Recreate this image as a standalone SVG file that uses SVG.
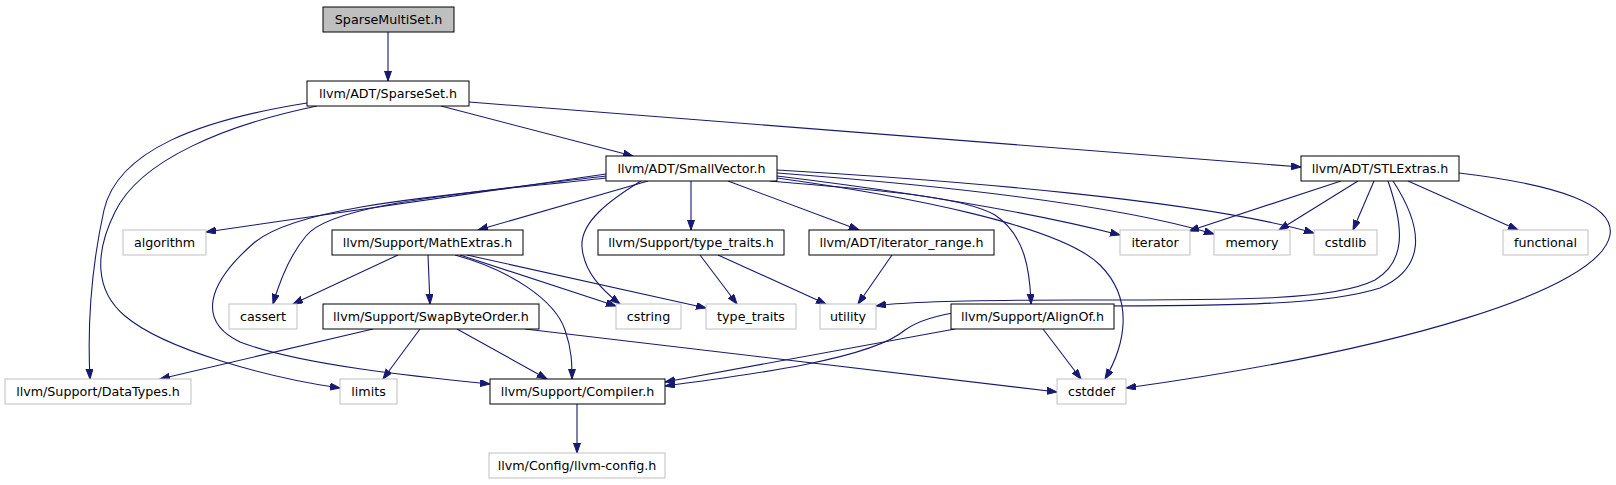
<svg xmlns="http://www.w3.org/2000/svg" width="1616" height="485" viewBox="0 0 1616 485">
<style>
  .n rect { fill: white; stroke: black; stroke-width: 1; }
  .n.root rect { fill: #bfbfbf; }
  .n.ext rect { stroke: #bfbfbf; }
  .n text { font-family: "DejaVu Sans", sans-serif; font-size: 12.7px; fill: black; text-anchor: middle; }
  .e path { fill: none; stroke: #191970; stroke-width: 1.1; marker-end: url(#ah); }
</style>
<defs>
  <marker id="ah" markerUnits="userSpaceOnUse" markerWidth="11" markerHeight="8" refX="10" refY="3.5" orient="auto">
    <path d="M0,0 L10,3.5 L0,7 z" fill="#191970" stroke="#191970" stroke-width="1"/>
  </marker>
</defs>
<rect width="1616" height="485" fill="white"/>
<g id="edges" class="e">
  <path d="M388,32 L388,81"/>
  <path d="M441,106 L633,156"/>
  <path d="M469,102 L1301,167"/>
  <path d="M307,103 C 200,120 118,150 104,210 C 93,260 87,320 90,379"/>
  <path d="M317,106 C 225,125 140,160 115,212 C 95,252 94,290 125,316 C 165,350 270,378 340,388"/>
  <path d="M606,174 L206,232"/>
  <path d="M606,176 C 450,195 330,205 306,236 C 290,255 280,280 273,304"/>
  <path d="M606,178 C 450,195 300,205 255,242 C 205,285 198,322 240,342 C 300,365 420,377 490,384"/>
  <path d="M648,181 L478,230"/>
  <path d="M641,181 C 610,200 580,222 582,247 C 584,272 602,290 620,304"/>
  <path d="M691,181 L691,230"/>
  <path d="M728,181 L859,230"/>
  <path d="M777,170 C 950,180 1200,200 1314,233"/>
  <path d="M777,173 C 950,186 1120,206 1214,234"/>
  <path d="M777,176 C 900,191 1030,212 1120,235"/>
  <path d="M777,178 C 900,195 1060,225 1100,265 C 1135,300 1125,345 1105,379"/>
  <path d="M770,181 C 870,190 960,195 995,215 C 1025,235 1030,270 1031,304"/>
  <path d="M1341,181 L1189,231"/>
  <path d="M1358,181 L1279,230"/>
  <path d="M1374,181 L1353,230"/>
  <path d="M1408,181 L1518,230"/>
  <path d="M1388,181 C 1405,230 1405,262 1375,280 C 1335,300 1250,300 1076,300 C 960,300 900,302 876,306"/>
  <path d="M1393,181 C 1425,230 1425,268 1380,288 C 1330,304 1250,306 1076,306 C 980,306 930,312 905,330 C 870,360 740,376 665,386"/>
  <path d="M1459,173 C 1560,185 1615,205 1610,235 C 1600,290 1400,350 1126,388"/>
  <path d="M398,255 L293,304"/>
  <path d="M428,255 L430,304"/>
  <path d="M460,255 L616,306"/>
  <path d="M467,255 L706,308"/>
  <path d="M455,255 C 510,270 555,300 565,330 C 572,350 572,365 572,379"/>
  <path d="M373,329 L160,379"/>
  <path d="M420,329 L383,379"/>
  <path d="M457,329 L547,379"/>
  <path d="M525,329 L1057,392"/>
  <path d="M955,329 L665,382"/>
  <path d="M1043,329 L1081,379"/>
  <path d="M700,255 L737,304"/>
  <path d="M718,255 L826,304"/>
  <path d="M892,255 L858,304"/>
  <path d="M577,404 L577,453"/>
</g>
<g id="n_sparsemultiset" class="n root"><rect x="323" y="7" width="131" height="25"/><text x="388.5" y="24">SparseMultiSet.h</text></g>
<g id="n_sparseset" class="n"><rect x="307" y="81" width="162" height="25"/><text x="388" y="98">llvm/ADT/SparseSet.h</text></g>
<g id="n_smallvector" class="n"><rect x="606" y="156" width="171" height="25"/><text x="691.5" y="173">llvm/ADT/SmallVector.h</text></g>
<g id="n_stlextras" class="n"><rect x="1301" y="156" width="158" height="25"/><text x="1380" y="173">llvm/ADT/STLExtras.h</text></g>
<g id="n_algorithm" class="n ext"><rect x="123" y="230" width="83" height="25"/><text x="164.5" y="247">algorithm</text></g>
<g id="n_mathextras" class="n"><rect x="332" y="230" width="191" height="25"/><text x="427.5" y="247">llvm/Support/MathExtras.h</text></g>
<g id="n_typetraits_h" class="n"><rect x="598" y="230" width="186" height="25"/><text x="691" y="247">llvm/Support/type_traits.h</text></g>
<g id="n_iterator_range" class="n"><rect x="809" y="230" width="185" height="25"/><text x="901.5" y="247">llvm/ADT/iterator_range.h</text></g>
<g id="n_iterator" class="n ext"><rect x="1120" y="230" width="70" height="25"/><text x="1155" y="247">iterator</text></g>
<g id="n_memory" class="n ext"><rect x="1214" y="230" width="76" height="25"/><text x="1252" y="247">memory</text></g>
<g id="n_cstdlib" class="n ext"><rect x="1314" y="230" width="63" height="25"/><text x="1345.5" y="247">cstdlib</text></g>
<g id="n_functional" class="n ext"><rect x="1503" y="230" width="85" height="25"/><text x="1545.5" y="247">functional</text></g>
<g id="n_cassert" class="n ext"><rect x="229" y="304" width="68" height="25"/><text x="263" y="321">cassert</text></g>
<g id="n_swapbyteorder" class="n"><rect x="323" y="304" width="216" height="25"/><text x="431" y="321">llvm/Support/SwapByteOrder.h</text></g>
<g id="n_cstring" class="n ext"><rect x="616" y="304" width="65" height="25"/><text x="648.5" y="321">cstring</text></g>
<g id="n_type_traits" class="n ext"><rect x="706" y="304" width="90" height="25"/><text x="751" y="321">type_traits</text></g>
<g id="n_utility" class="n ext"><rect x="820" y="304" width="56" height="25"/><text x="848" y="321">utility</text></g>
<g id="n_alignof" class="n"><rect x="951" y="304" width="163" height="25"/><text x="1032.5" y="321">llvm/Support/AlignOf.h</text></g>
<g id="n_datatypes" class="n ext"><rect x="5" y="379" width="186" height="25"/><text x="98" y="396">llvm/Support/DataTypes.h</text></g>
<g id="n_limits" class="n ext"><rect x="340" y="379" width="57" height="25"/><text x="368.5" y="396">limits</text></g>
<g id="n_compiler" class="n"><rect x="490" y="379" width="175" height="25"/><text x="577.5" y="396">llvm/Support/Compiler.h</text></g>
<g id="n_cstddef" class="n ext"><rect x="1057" y="379" width="69" height="25"/><text x="1091.5" y="396">cstddef</text></g>
<g id="n_llvmconfig" class="n ext"><rect x="489" y="453" width="176" height="25"/><text x="577" y="470">llvm/Config/llvm-config.h</text></g>
</svg>
